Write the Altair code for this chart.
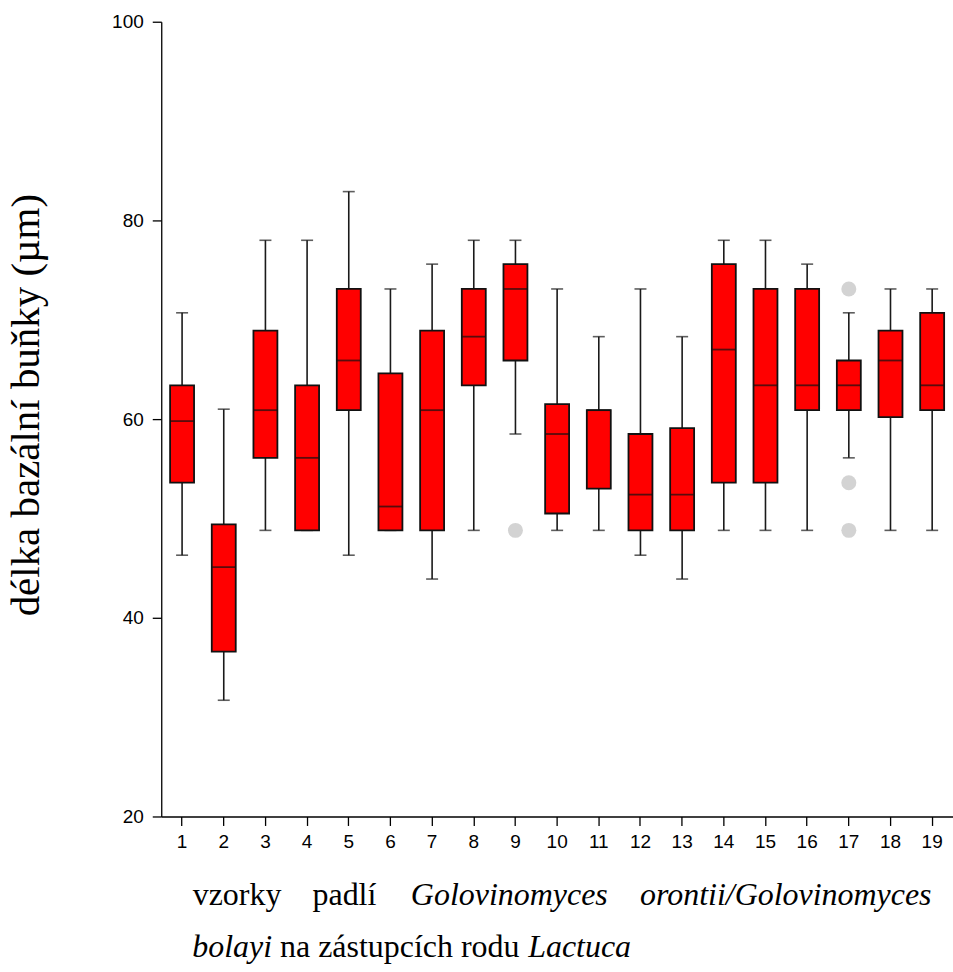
import altair as alt
import pandas as pd

# Sample numbers (x categories)
samples = [str(i) for i in range(1, 20)]

# Box-plot statistics per sample (µm)
whisker_low = [46.3, 31.7, 48.8, 48.8, 46.3, 48.8, 43.9, 48.8, 58.5, 48.8,
               48.8, 46.3, 43.9, 48.8, 48.8, 48.8, 56.1, 48.8, 48.8]
q1 = [53.6, 36.6, 56.1, 48.8, 60.9, 48.8, 48.8, 63.4, 65.9, 50.5,
      53.0, 48.8, 48.8, 53.6, 53.6, 60.9, 60.9, 60.2, 60.9]
median = [59.8, 45.1, 60.9, 56.1, 65.9, 51.2, 60.9, 68.3, 73.1, 58.5,
          60.9, 52.4, 52.4, 67.0, 63.4, 63.4, 63.4, 65.9, 63.4]
q3 = [63.4, 49.4, 68.9, 63.4, 73.1, 64.6, 68.9, 73.1, 75.6, 61.5,
      60.9, 58.5, 59.1, 75.6, 73.1, 73.1, 65.9, 68.9, 70.7]
whisker_high = [70.7, 61.0, 78.0, 78.0, 82.9, 73.1, 75.6, 78.0, 78.0, 73.1,
                68.3, 73.1, 68.3, 78.0, 78.0, 75.6, 70.7, 73.1, 73.1]

# Outlying observations
outlier_sample = ["9", "17", "17", "17"]
outlier_value = [48.8, 73.1, 53.6, 48.8]

stats = pd.DataFrame({
    "sample": samples,
    "lo": whisker_low,
    "q1": q1,
    "med": median,
    "q3": q3,
    "hi": whisker_high,
})
outliers = pd.DataFrame({"sample": outlier_sample, "value": outlier_value})
single = pd.DataFrame({"row": [0]})  # one row, so each title text is drawn once

SERIF = "Liberation Serif, Times New Roman, serif"
SANS = "Liberation Sans, Arial, sans-serif"
INK = "#111111"

x_enc = alt.X(
    "sample:N",
    sort=samples,
    scale=alt.Scale(paddingInner=0, paddingOuter=0),
    axis=alt.Axis(
        title=None, labelAngle=0, labelFont=SANS, labelFontSize=19,
        labelColor="black", tickColor="black", domainColor="black",
        tickSize=9, labelPadding=7, domainWidth=1.3, tickWidth=1.3,
    ),
)
y_scale = alt.Scale(domain=[20, 100], nice=False, zero=False)
y_axis = alt.Axis(
    title=None, values=[20, 40, 60, 80, 100], labelFont=SANS, labelFontSize=19,
    labelColor="black", tickColor="black", domainColor="black",
    tickSize=9, labelPadding=9, grid=False, domainWidth=1.3, tickWidth=1.3,
)

base = alt.Chart(stats).encode(x=x_enc)

whiskers = base.mark_rule(color="#1a1a1a", strokeWidth=1.6).encode(
    y=alt.Y("lo:Q", scale=y_scale, axis=y_axis),
    y2="hi:Q",
)
cap_low = base.mark_tick(color="#1a1a1a", size=12, thickness=1.6).encode(
    y=alt.Y("lo:Q", scale=y_scale)
)
cap_high = base.mark_tick(color="#1a1a1a", size=12, thickness=1.6).encode(
    y=alt.Y("hi:Q", scale=y_scale)
)
boxes = base.mark_bar(width=24, color="#ff0000", stroke=INK,
                      strokeWidth=1.8).encode(
    y=alt.Y("q1:Q", scale=y_scale),
    y2="q3:Q",
)
medians = base.mark_tick(color=INK, size=24, thickness=1.8).encode(
    y=alt.Y("med:Q", scale=y_scale)
)
points = alt.Chart(outliers).mark_circle(
    color="#d3d3d3", opacity=1, size=225
).encode(
    x=alt.X("sample:N", sort=samples),
    y=alt.Y("value:Q", scale=y_scale),
)

# Axis titles
text_style = dict(font=SERIF, color="black", baseline="alphabetic")
y_title = alt.Chart(single).mark_text(
    text="délka bazální buňky (µm)", angle=270, align="center",
    fontSize=41, **text_style
).encode(x=alt.value(-122), y=alt.value(384))

line1_y = 885
line2_y = 936.5
x_title_runs = [
    ("vzorky", "normal", "left", 31.5, line1_y),
    ("padlí", "normal", "left", 151.5, line1_y),
    ("Golovinomyces", "italic", "left", 250, line1_y),
    ("orontii/Golovinomyces", "italic", "right", 771.5, line1_y),
    ("bolayi", "italic", "left", 31, line2_y),
    ("na zástupcích rodu", "normal", "left", 119, line2_y),
    ("Lactuca", "italic", "left", 367.5, line2_y),
]
x_title_layers = [
    alt.Chart(single).mark_text(
        text=t, fontStyle=st, align=al, fontSize=32, **text_style
    ).encode(x=alt.value(xx), y=alt.value(yy))
    for t, st, al, xx, yy in x_title_runs
]

chart = alt.layer(
    whiskers, cap_low, cap_high, boxes, medians, points, y_title, *x_title_layers
).properties(
    width=793,
    height=796,
    padding={"left": 161.5, "top": 21, "right": 0, "bottom": 155},
    autosize=alt.AutoSizeParams(type="none"),
    background="white",
).configure_view(stroke=None)

chart.save("out.html", embed_options={"renderer": "svg", "actions": False})
